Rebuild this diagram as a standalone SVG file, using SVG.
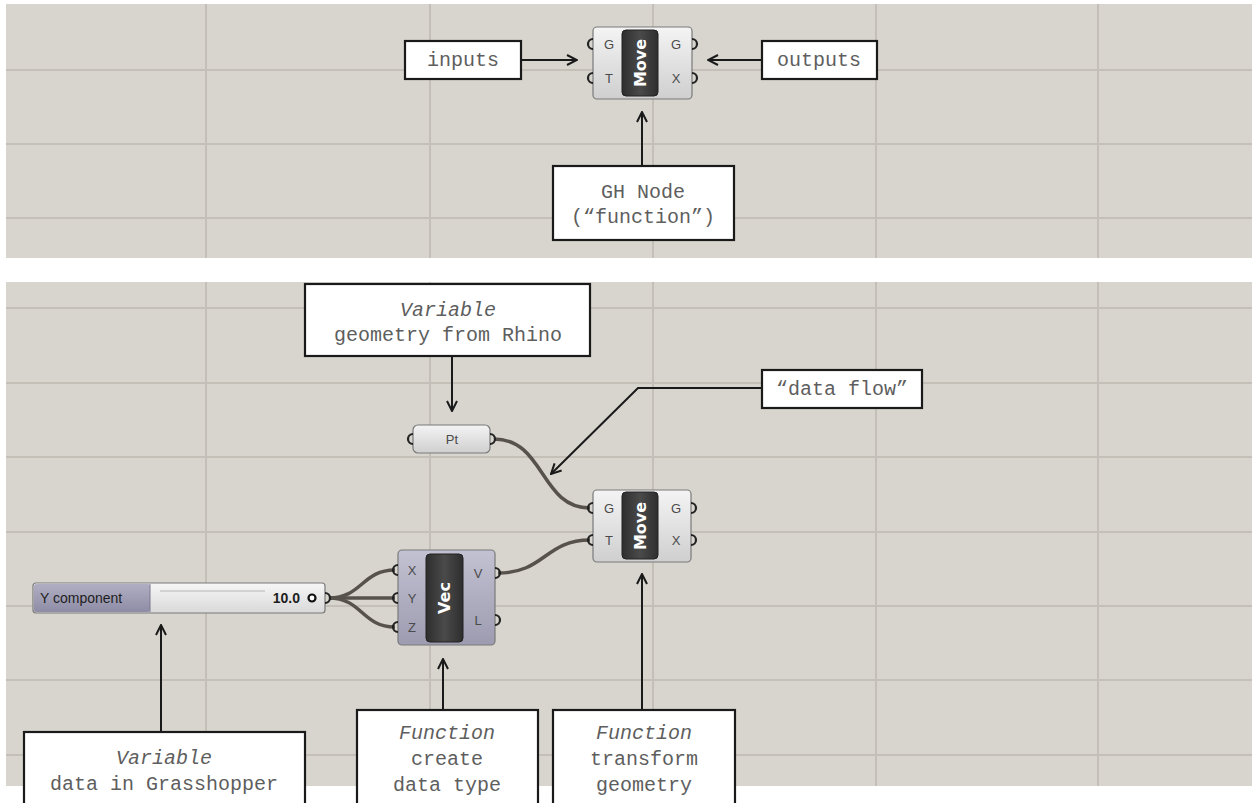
<svg xmlns="http://www.w3.org/2000/svg" width="1252" height="803" viewBox="0 0 1252 803">
<defs>
<style>
.panel{fill:#d8d5ce}
.grid{stroke:#c4c0b7;stroke-width:2;fill:none}
.box{fill:#fff;stroke:#1a1a1a;stroke-width:2.2}
.lbl{font-family:"Liberation Mono","Courier New",monospace;font-size:20px;fill:#5e5e5e;text-anchor:middle}
.it{font-style:italic}
.conn{stroke:#1a1a1a;stroke-width:2;fill:none}
.wire{stroke:#57534c;stroke-width:3.5;fill:none}
.body{stroke:#7a7a7a;stroke-width:1.2}
.pill{fill:url(#gDark);stroke:#222;stroke-width:1}
.ptitle{font-family:"DejaVu Sans",Arial,sans-serif;font-weight:bold;font-size:16px;fill:#fff;text-anchor:middle}
.port{font-family:"Liberation Sans",Arial,sans-serif;font-size:13px;fill:#4a4a4a;text-anchor:middle}
.pt{fill:none;stroke:#222;stroke-width:2.2}
</style>
<linearGradient id="gLight" x1="0" y1="0" x2="0" y2="1">
<stop offset="0" stop-color="#f4f4f4"/><stop offset="1" stop-color="#cfcfcf"/>
</linearGradient>
<linearGradient id="gVec" x1="0" y1="0" x2="0" y2="1">
<stop offset="0" stop-color="#c3c2d2"/><stop offset="1" stop-color="#9c9bb0"/>
</linearGradient>
<linearGradient id="gDark" x1="0" y1="0" x2="1" y2="0">
<stop offset="0" stop-color="#2e2e2e"/><stop offset="0.5" stop-color="#4a4a4a"/><stop offset="1" stop-color="#2e2e2e"/>
</linearGradient>
<linearGradient id="gSlider" x1="0" y1="0" x2="0" y2="1">
<stop offset="0" stop-color="#f6f6f6"/><stop offset="1" stop-color="#d9d9d9"/>
</linearGradient>
<linearGradient id="gSlLbl" x1="0" y1="0" x2="0" y2="1">
<stop offset="0" stop-color="#b0aec2"/><stop offset="1" stop-color="#8f8da6"/>
</linearGradient>
<marker id="arr" viewBox="0 0 12 12" refX="11" refY="6" markerWidth="12" markerHeight="12" markerUnits="userSpaceOnUse" orient="auto">
<path d="M1,1 L11,6 L1,11" fill="none" stroke="#1a1a1a" stroke-width="2"/>
</marker>
</defs>

<g id="background">
<rect x="0" y="0" width="1252" height="803" fill="#ffffff"/>
<rect class="panel" x="6" y="4" width="1246" height="254"/>
<rect class="panel" x="6" y="282" width="1246" height="504"/>
<path class="grid" d="M206,4V258M430,4V258M653,4V258M876,4V258M1098,4V258M6,70H1252M6,144H1252M6,218H1252"/>
<path class="grid" d="M206,282V786M430,282V786M653,282V786M876,282V786M1098,282V786M6,308H1252M6,383H1252M6,457H1252M6,532H1252M6,606H1252M6,680H1252M6,755H1252"/>
</g>

<g id="connectors">
<line class="conn" x1="521" y1="60" x2="577" y2="60" marker-end="url(#arr)"/>
<line class="conn" x1="762" y1="60" x2="708" y2="60" marker-end="url(#arr)"/>
<line class="conn" x1="642" y1="166" x2="642" y2="112" marker-end="url(#arr)"/>
<line class="conn" x1="452" y1="356" x2="452" y2="411" marker-end="url(#arr)"/>
<polyline class="conn" points="762,388 638,388 551,474" marker-end="url(#arr)"/>
<line class="conn" x1="161" y1="732" x2="161" y2="625" marker-end="url(#arr)"/>
<line class="conn" x1="443" y1="710" x2="443" y2="659" marker-end="url(#arr)"/>
<line class="conn" x1="642" y1="710" x2="642" y2="574" marker-end="url(#arr)"/>
<path class="wire" d="M494,439 C545,439 540,508 590,508"/>
<path class="wire" d="M329,598 C362,598 362,570 395,570"/>
<path class="wire" d="M329,598 L395,598"/>
<path class="wire" d="M329,598 C362,598 362,627 395,627"/>
<path class="wire" d="M498,573 C545,573 545,540 590,540"/>
</g>

<g id="inputs">
<rect class="box" x="405" y="41" width="116" height="38"/>
<text class="lbl" x="463" y="66">inputs</text>
</g>
<g id="outputs">
<rect class="box" x="762" y="41" width="115" height="38"/>
<text class="lbl" x="819" y="66">outputs</text>
</g>
<g id="gh-node">
<rect class="box" x="553" y="166" width="181" height="74"/>
<text class="lbl" x="643" y="198">GH Node</text>
<text class="lbl" x="643" y="223">(“function”)</text>
</g>

<g id="move-top">
<rect class="body" x="593" y="27" width="99" height="72" rx="4" fill="url(#gLight)"/>
<rect class="pill" x="622" y="30" width="36" height="66" rx="4"/>
<text class="ptitle" transform="translate(646,63) rotate(-90)">Move</text>
<text class="port" x="609" y="49">G</text>
<text class="port" x="609" y="83">T</text>
<text class="port" x="676" y="49">G</text>
<text class="port" x="676" y="83">X</text>
<path class="pt" d="M593,39 A5,5 0 0 0 593,49"/>
<path class="pt" d="M593,73 A5,5 0 0 0 593,83"/>
<path class="pt" d="M692,39 A5,5 0 0 1 692,49"/>
<path class="pt" d="M692,73 A5,5 0 0 1 692,83"/>
</g>

<g id="variable-geometry">
<rect class="box" x="305" y="284" width="285" height="72"/>
<text class="lbl it" x="448" y="316">Variable</text>
<text class="lbl" x="448" y="341">geometry from Rhino</text>
</g>
<g id="data-flow">
<rect class="box" x="762" y="370" width="160" height="38"/>
<text class="lbl" x="842" y="395">“data flow”</text>
</g>

<g id="pt">
<rect class="body" x="413" y="425" width="77" height="28" rx="5" fill="url(#gLight)"/>
<text class="port" x="452" y="444">Pt</text>
<path class="pt" d="M413,434 A5,5 0 0 0 413,444"/>
<path class="pt" d="M490,434 A5,5 0 0 1 490,444"/>
</g>

<g id="move-bottom">
<rect class="body" x="593" y="490" width="98" height="72" rx="4" fill="url(#gLight)"/>
<rect class="pill" x="622" y="492" width="36" height="67" rx="4"/>
<text class="ptitle" transform="translate(646,526) rotate(-90)">Move</text>
<text class="port" x="609" y="513">G</text>
<text class="port" x="609" y="545">T</text>
<text class="port" x="676" y="513">G</text>
<text class="port" x="676" y="545">X</text>
<path class="pt" d="M593,503 A5,5 0 0 0 593,513"/>
<path class="pt" d="M593,535 A5,5 0 0 0 593,545"/>
<path class="pt" d="M691,503 A5,5 0 0 1 691,513"/>
<path class="pt" d="M691,535 A5,5 0 0 1 691,545"/>
</g>

<g id="vec">
<rect class="body" x="398" y="550" width="97" height="95" rx="4" fill="url(#gVec)"/>
<rect class="pill" x="426" y="554" width="37" height="88" rx="4"/>
<text class="ptitle" transform="translate(450,598) rotate(-90)">Vec</text>
<text class="port" x="412" y="575">X</text>
<text class="port" x="412" y="603">Y</text>
<text class="port" x="412" y="632">Z</text>
<text class="port" x="478" y="578">V</text>
<text class="port" x="478" y="625">L</text>
<path class="pt" d="M398,565 A5,5 0 0 0 398,575"/>
<path class="pt" d="M398,593 A5,5 0 0 0 398,603"/>
<path class="pt" d="M398,622 A5,5 0 0 0 398,632"/>
<path class="pt" d="M495,568 A5,5 0 0 1 495,578"/>
<path class="pt" d="M495,615 A5,5 0 0 1 495,625"/>
</g>

<g id="slider">
<rect class="body" x="33" y="583" width="292" height="30" rx="3" fill="url(#gSlider)"/>
<rect x="34" y="584" width="116" height="28" rx="2" fill="url(#gSlLbl)"/>
<line x1="150" y1="584" x2="150" y2="612" stroke="#7a7890" stroke-width="1"/>
<line x1="160" y1="591" x2="265" y2="591" stroke="#c8c8c8" stroke-width="1.5"/>
<text x="40" y="603" font-family="Liberation Sans,Arial,sans-serif" font-size="14" fill="#1e1e1e">Y component</text>
<text x="300" y="603" font-family="Liberation Sans,Arial,sans-serif" font-size="14" font-weight="bold" fill="#1e1e1e" text-anchor="end">10.0</text>
<circle cx="312" cy="598" r="3.5" fill="#fff" stroke="#111" stroke-width="2.2"/>
<path class="pt" d="M325,593 A5,5 0 0 1 325,603"/>
</g>

<g id="variable-data">
<rect class="box" x="24" y="732" width="281" height="80"/>
<text class="lbl it" x="164" y="764">Variable</text>
<text class="lbl" x="164" y="790">data in Grasshopper</text>
</g>
<g id="function-create">
<rect class="box" x="357" y="710" width="181" height="102"/>
<text class="lbl it" x="447" y="739">Function</text>
<text class="lbl" x="447" y="765">create</text>
<text class="lbl" x="447" y="791">data type</text>
</g>
<g id="function-transform">
<rect class="box" x="553" y="710" width="182" height="102"/>
<text class="lbl it" x="644" y="739">Function</text>
<text class="lbl" x="644" y="765">transform</text>
<text class="lbl" x="644" y="791">geometry</text>
</g>
</svg>
